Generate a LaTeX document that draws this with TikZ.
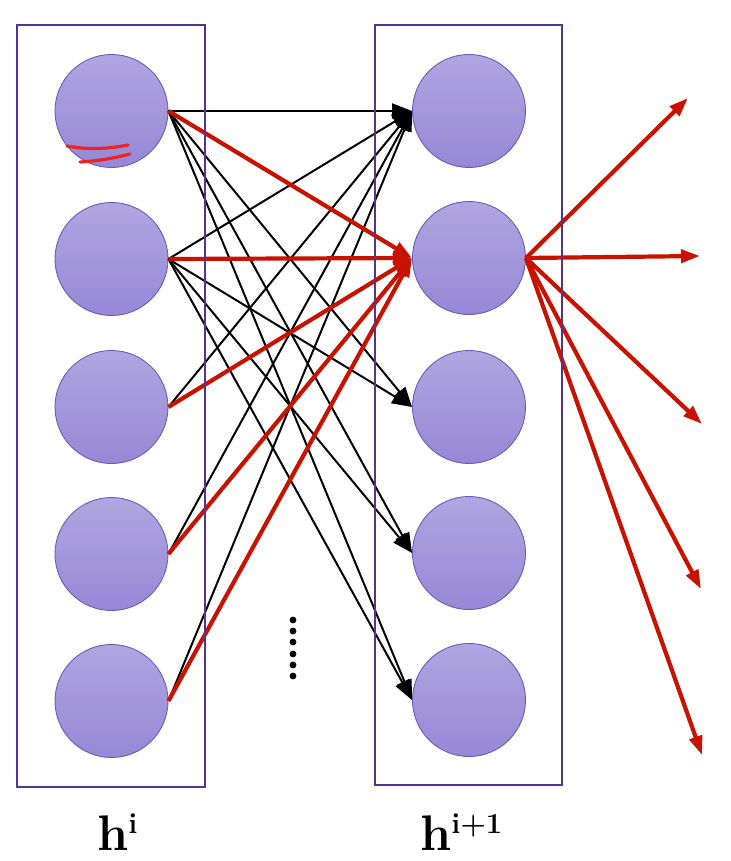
\documentclass[tikz,border=0pt]{standalone}
\usetikzlibrary{arrows.meta}
\definecolor{boxc}{RGB}{80,52,150}
\definecolor{ntop}{RGB}{176,166,224}
\definecolor{nbot}{RGB}{150,136,214}
\definecolor{nedge}{RGB}{108,90,185}
\definecolor{redc}{RGB}{200,18,0}
\definecolor{scrib}{RGB}{238,35,35}
\begin{document}
\begin{tikzpicture}[x=1pt,y=-1pt,
  neuron/.style={circle, minimum size=113pt, inner sep=0pt, top color=ntop, bottom color=nbot, draw=nedge, line width=0.9pt},
  layerbox/.style={draw=boxc, line width=2pt},
  blk/.style={black, line width=2pt, -{Triangle[length=20pt,width=15pt]}},
  redw/.style={redc, line width=4.2pt, -{Triangle[length=19pt,width=13pt]}},
  lab/.style={anchor=base west, inner sep=0pt, font=\fontsize{50}{60}\selectfont\bfseries}]
\useasboundingbox (0,0) rectangle (730,861);
% neurons
\foreach \i/\y in {1/111,2/259,3/407,4/554,5/701}{
  \node[neuron] (L\i) at (111.5,\y) {};
}
\foreach \i/\y in {1/111,2/258,3/407,4/553,5/700}{
  \node[neuron] (R\i) at (469,\y) {};
}
% scribble
\draw[scrib, line width=3.2pt, line cap=round] (67,146) .. controls (88,150) and (108,149) .. (128,145);
\draw[scrib, line width=3.2pt, line cap=round] (80,162) .. controls (98,161) and (115,158) .. (130,154);
% black connections
\foreach \i in {1,...,5}{ \draw[blk] (L\i.east) -- (R1.west); }
\foreach \i in {1,2}{ \foreach \j in {3,4,5}{ \draw[blk] (L\i.east) -- (R\j.west); } }
% red connections
\foreach \i in {1,...,5}{ \draw[redw] (L\i.east) -- (R2.west); }
% outputs
\coordinate (o1) at (688,98);
\coordinate (o2) at (700,256);
\coordinate (o3) at (702,424);
\coordinate (o4) at (701,589);
\coordinate (o5) at (702,755);
\foreach \k in {1,...,5}{ \draw[redw] (R2.east) -- (o\k); }
% boxes
\node[layerbox, minimum width=188pt, minimum height=762pt, inner sep=0pt] (B1) at (111,406) {};
\node[layerbox, minimum width=187pt, minimum height=760pt, inner sep=0pt] (B2) at (468.5,405) {};
% dots
\foreach \y in {620,631,642,654,665,676}{ \fill (293,\y) circle (3.4pt); }
% labels
\node[lab] (hi) at (97,850) {h\raisebox{17pt}{\fontsize{29}{31}\selectfont i}};
\node[lab] (hi1) at (420,850) {h\raisebox{17pt}{\fontsize{29}{31}\selectfont i+1}};
\end{tikzpicture}
\end{document}
